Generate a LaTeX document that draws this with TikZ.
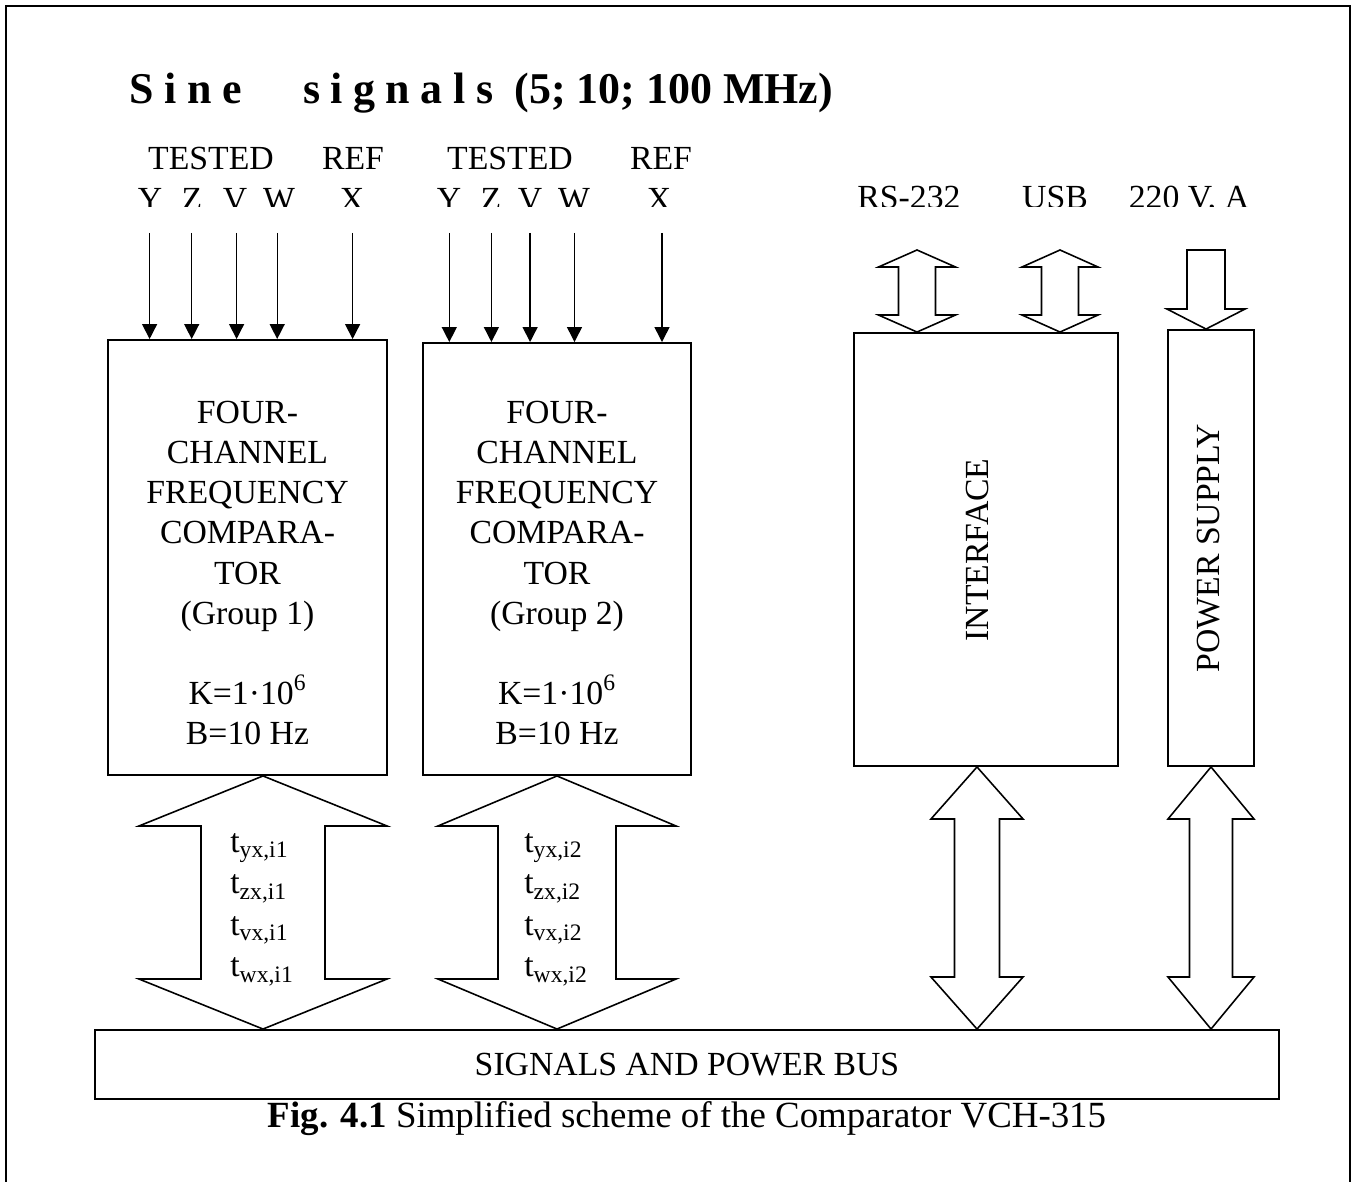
\documentclass[tikz,border=0pt]{standalone}
\usepackage{fontspec}
\setmainfont{Liberation Serif}
\usetikzlibrary{arrows.meta, calc}
\def\px{0.02cm}
\newcommand\ls{\kern0.24em}
\tikzset{
  blk/.style={draw, line width=1.1pt, inner sep=0pt},
  lbl/.style={inner sep=0pt, font=\fontsize{19.2}{22.8}\selectfont},
  ttl/.style={inner sep=0pt, font=\fontsize{25}{30}\selectfont\bfseries},
  cpt/.style={inner sep=0pt, font=\fontsize{21}{25}\selectfont},
  sig/.style={-{Triangle[length=0.3cm,width=0.3cm]}, line width=0.8pt},
  fat/.style={draw, line width=0.9pt, line join=miter},
  frame/.style={line width=1.6pt},
}
% double block arrow: top tip, bottom tip, head half width, shaft half width, head length
\newcommand\fatarrow[5]{%
  \draw[fat] (#1) -- ++(-#3,#5) -- ++({#3-#4},0) -- ($(#2)+(-#4,-#5)$) -- ++({#4-#3},0)
    -- (#2) -- ++(#3,-#5) -- ++({#4-#3},0) -- ($(#1)+(#4,#5)$) -- ++({#3-#4},0) -- cycle;}
% single block arrow pointing down: shaft top, tip, head half width, shaft half width, head length
\newcommand\fatdown[5]{%
  \draw[fat] ($(#1)+(-#4,0)$) -- ($(#2)+(-#4,-#5)$) -- ++({#4-#3},0) -- (#2)
    -- ++(#3,-#5) -- ++({#4-#3},0) -- ($(#1)+(#4,0)$) -- cycle;}
\begin{document}
\begin{tikzpicture}[x=\px, y=-\px]
\useasboundingbox (0,0) rectangle (1356,1182);
\draw[frame] (6,1182) -- (6,6) -- (1350,6) -- (1350,1182);
\node[ttl, anchor=base west] (title) at (129,104) {S\ls i\ls n\ls e\kern1.4em s\ls i\ls g\ls n\ls a\ls l\ls s\ls\ (5; 10; 100 MHz)};
% blocks
\node[blk, minimum width={279*\px}, minimum height={435*\px}] (cmp1) at (247.5,557.5) {};
\node[blk, minimum width={268*\px}, minimum height={432*\px}] (cmp2) at (557,559) {};
\node[blk, minimum width={264*\px}, minimum height={433*\px}] (intf) at (986,549.5) {};
\node[blk, minimum width={86*\px}, minimum height={436*\px}] (psu) at (1211,548) {};
\node[blk, lbl, minimum width={1184*\px}, minimum height={69*\px}] (bus) at (687,1064.5) {SIGNALS AND POWER BUS};
\node[lbl, align=center] (cmp1txt) at (247.5,573) {FOUR-\\CHANNEL\\FREQUENCY\\COMPARA-\\TOR\\(Group 1)\\[22.8pt]K=1·10\textsuperscript{6}\\B=10 Hz};
\node[lbl, align=center] (cmp2txt) at (557,573) {FOUR-\\CHANNEL\\FREQUENCY\\COMPARA-\\TOR\\(Group 2)\\[22.8pt]K=1·10\textsuperscript{6}\\B=10 Hz};
\node[lbl, rotate=90] (intftxt) at (977,550) {INTERFACE};
\node[lbl, rotate=90] (psutxt) at (1209,548) {POWER SUPPLY};
% inputs
\node[lbl, anchor=base] (tst1) at (211,170) {TESTED};
\node[lbl, anchor=base] (ref1) at (353,170) {REF};
\node[lbl, anchor=base] (tst2) at (510,170) {TESTED};
\node[lbl, anchor=base] (ref2) at (661,170) {REF};
\begin{scope}
\clip (0,0) rectangle (1356,207);
\foreach \xx/\ch [count=\k] in {150/Y,192/Z,235/V,279/W,352/X}
  {\node[lbl, anchor=base] (c1\k) at (\xx,211) {\ch};}
\foreach \xx/\ch [count=\k] in {449/Y,491/Z,530/V,574/W,659/X}
  {\node[lbl, anchor=base] (c2\k) at (\xx,211) {\ch};}
\node[lbl, anchor=base] (rs) at (909,209) {RS-232};
\node[lbl, anchor=base] (usb) at (1055,209) {USB};
\node[lbl, anchor=base] (mains) at (1189,209) {220 V, A};
\end{scope}
\foreach \xx [count=\k] in {149.6,191.7,236.6,277.2,352.6}
  {\coordinate (a1\k) at (\xx,233);
   \draw[sig] (a1\k) -- (a1\k |- cmp1.north);}
\foreach \xx [count=\k] in {449.3,491.4,530.1,574.5,662}
  {\coordinate (a2\k) at (\xx,233);
   \draw[sig] (a2\k) -- (a2\k |- cmp2.north);}
% block arrows
\coordinate (rsa) at (917,250);
\coordinate (rsb) at (rsa |- intf.north);
\coordinate (usba) at (1060,250);
\coordinate (usbb) at (usba |- intf.north);
\coordinate (pin) at (1206,250);
\coordinate (pint) at (pin |- psu.north);
\fatarrow{rsa}{rsb}{38.5}{18.5}{17}
\fatarrow{usba}{usbb}{38}{18.5}{17}
\fatdown{pin}{pint}{39}{19}{20}
\coordinate (f1t) at ($(cmp1.south)+(15.5,0)$);
\coordinate (f1b) at (f1t |- bus.north);
\coordinate (f2b) at (cmp2.south |- bus.north);
\coordinate (f3t) at ($(intf.south)+(-9,0)$);
\coordinate (f3b) at (f3t |- bus.north);
\coordinate (f4b) at (psu.south |- bus.north);
\fatarrow{f1t}{f1b}{124}{62}{50}
\fatarrow{cmp2.south}{f2b}{119}{59}{50}
\fatarrow{f3t}{f3b}{46}{22.5}{52}
\fatarrow{psu.south}{f4b}{43}{21.5}{52}
\foreach \s [count=\k] in {yx,zx,vx,wx}
  {\node[lbl, anchor=base west] (t1\s) at (230,{852+41.6*(\k-1)}) {t\textsubscript{\s,i1}};
   \node[lbl, anchor=base west] (t2\s) at (524,{852+41.6*(\k-1)}) {t\textsubscript{\s,i2}};}
\node[cpt, anchor=base] (cap) at (687,1127) {\textbf{Fig. 4.1} Simplified scheme of the Comparator VCH-315};
\end{tikzpicture}
\end{document}
